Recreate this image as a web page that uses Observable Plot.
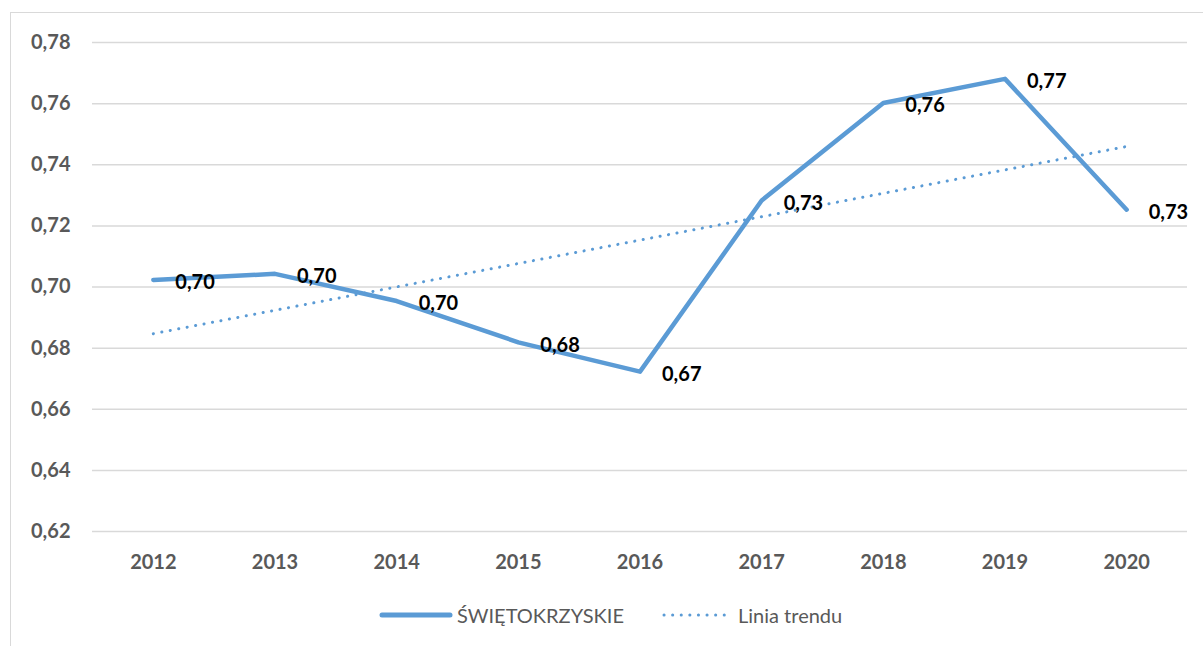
<!DOCTYPE html>
<html>
<head>
<meta charset="utf-8">
<script src="https://cdn.jsdelivr.net/npm/d3@7"></script>
<script src="https://cdn.jsdelivr.net/npm/@observablehq/plot@0.6"></script>
<style>
  html, body { margin: 0; padding: 0; background: #fff; }
  #wrap { position: relative; width: 1203px; height: 646px; overflow: hidden; font-family: Lato, "Open Sans", sans-serif; }
  #frame { position: absolute; left: 10px; top: 12px; width: 1300px; height: 800px; border-left: 1.5px solid #d9d9d9; border-top: 1.5px solid #d9d9d9; }
  #chart { position: absolute; left: 0; top: 0; }
  #legend { position: absolute; left: 0; top: 600px; width: 1203px; height: 30px; }
  .li { position: absolute; top: 0; font-size: 20px; color: #595959; line-height: 30px; }
</style>
</head>
<body>
<div id="wrap">
  <div id="frame"></div>
  <div id="chart"></div>
  <div id="legend">
    <svg style="position:absolute;left:378px;top:0" width="76" height="30"><line x1="4" y1="15" x2="72" y2="15" stroke="#5b9bd5" stroke-width="5" stroke-linecap="round"/></svg>
    <span class="li" style="left:457px">ŚWIĘTOKRZYSKIE</span>
    <svg style="position:absolute;left:660px;top:0" width="76" height="30"><line x1="4" y1="15" x2="72" y2="15" stroke="#5b9bd5" stroke-width="3" stroke-dasharray="0.1 8.5" stroke-linecap="round"/></svg>
    <span class="li" style="left:738px">Linia trendu</span>
  </div>
</div>
<script>
const years = [2012, 2013, 2014, 2015, 2016, 2017, 2018, 2019, 2020];
const values = [0.7023, 0.7043, 0.6954, 0.6819, 0.6723, 0.7283, 0.7602, 0.7681, 0.7253];
const yTicks = [0.62, 0.64, 0.66, 0.68, 0.70, 0.72, 0.74, 0.76, 0.78];
const seriesName = "ŚWIĘTOKRZYSKIE";

const data = years.map((year, i) => ({year, value: values[i]}));
const fmt = v => v.toFixed(2).replace(".", ",");
const blue = "#5b9bd5";

const chart = Plot.plot({
  width: 1203,
  height: 590,
  marginLeft: 92,
  marginRight: 16,
  marginTop: 42,
  marginBottom: 59,
  style: { fontFamily: "Lato, 'Open Sans', sans-serif", background: "transparent" },
  x: { domain: [2011.5, 2020.5], ticks: years, tickFormat: d => String(d), tickSize: 0, tickPadding: 22, label: null },
  y: { domain: [0.62, 0.78], ticks: yTicks, tickFormat: fmt, tickSize: 0, tickPadding: 22, label: null },
  marks: [
    Plot.gridY(yTicks, { stroke: "#d9d9d9", strokeOpacity: 1, strokeWidth: 1.5 }),
    Plot.axisY({ ticks: yTicks, tickFormat: fmt, tickSize: 0, tickPadding: 22, fontSize: 20, fontWeight: "bold", fill: "#595959", label: null }),
    Plot.axisX({ ticks: years, tickFormat: d => String(d), tickSize: 0, tickPadding: 23, fontSize: 20, fontWeight: "bold", fill: "#595959", label: null }),
    Plot.linearRegressionY(data, { x: "year", y: "value", ci: 0, stroke: blue, strokeWidth: 3, strokeDasharray: "0.1 8.5", strokeLinecap: "round" }),
    Plot.line(data, { x: "year", y: "value", stroke: blue, strokeWidth: 4.5, strokeLinejoin: "round", strokeLinecap: "round" }),
    Plot.text(data, { x: "year", y: "value", text: d => fmt(d.value), textAnchor: "start", dx: 22, dy: 3, fontSize: 20, fontWeight: "bold", fill: "#000" })
  ]
});
document.getElementById("chart").appendChild(chart);
</script>
</body>
</html>
